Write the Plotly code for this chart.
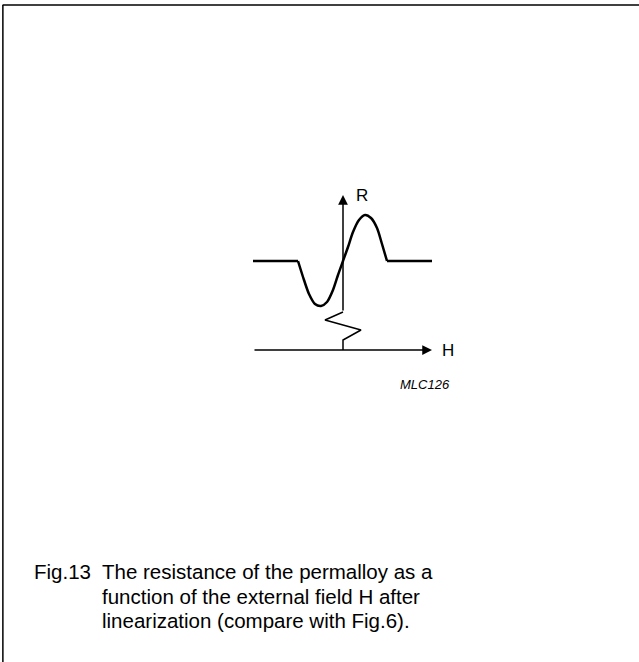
import plotly.graph_objects as go

# Curve R(H) after linearization, units relative to the axis origin (y up)
flat_left_h = [-90, -45]
flat_right_h = [44, 89]
flat_r = [89, 89]
wave_h = [-45, -39, -34, -28, -22, -16, -10, -5, 0, 5, 10, 16, 22, 28, 34, 39, 44]
wave_r = [89, 70, 56, 46, 44, 48, 60, 75, 89, 103, 118, 130, 135, 132, 122, 106, 89]

# Broken R axis (zigzag near the origin)
zig_h = [0, 0, 18, -18, 0]
zig_r = [0, 10, 20, 30, 38]

# Axis extents
h_axis = [-90, 89]
r_axis = [38, 155]

caption_lines = [
    "The resistance of the permalloy as a",
    "function of the external field H after",
    "linearization (compare with Fig.6).",
]
caption_y = [-221, -246, -270]

font = "Liberation Sans, Arial, sans-serif"

fig = go.Figure()

for hx in (flat_left_h, flat_right_h):
    fig.add_trace(go.Scatter(
        x=hx, y=flat_r, mode="lines",
        line=dict(color="black", width=2.5),
        hoverinfo="skip", showlegend=False,
    ))

fig.add_trace(go.Scatter(
    x=wave_h, y=wave_r, mode="lines",
    line=dict(color="black", width=2.5, shape="spline", smoothing=0.8),
    hoverinfo="skip", showlegend=False,
))

fig.add_trace(go.Scatter(
    x=zig_h, y=zig_r, mode="lines",
    line=dict(color="black", width=1.5),
    hoverinfo="skip", showlegend=False,
))

# axes with arrowheads
fig.add_annotation(x=h_axis[1], y=0, ax=h_axis[0], ay=0, xref="x", yref="y",
                   axref="x", ayref="y", showarrow=True, arrowhead=2,
                   arrowsize=1.3, arrowwidth=1.5, arrowcolor="black", text="")
fig.add_annotation(x=0, y=r_axis[1], ax=0, ay=r_axis[0], xref="x", yref="y",
                   axref="x", ayref="y", showarrow=True, arrowhead=2,
                   arrowsize=1.3, arrowwidth=1.5, arrowcolor="black", text="")

fig.add_annotation(x=19, y=155, text="R", showarrow=False,
                   font=dict(family=font, size=17, color="black"))
fig.add_annotation(x=105, y=0, text="H", showarrow=False,
                   font=dict(family=font, size=17, color="black"))
fig.add_annotation(x=82, y=-34, text="<i>MLC126</i>", showarrow=False,
                   font=dict(family=font, size=13, color="black"))

# caption
fig.add_annotation(x=-311, y=caption_y[0], text="Fig.13", showarrow=False,
                   xanchor="left", font=dict(family=font, size=20.5, color="black"))
for line, yy in zip(caption_lines, caption_y):
    fig.add_annotation(x=-243, y=yy, text=line, showarrow=False,
                       xanchor="left", font=dict(family=font, size=20.5, color="black"))

# frame (top and left edges visible)
fig.add_shape(type="line", xref="paper", yref="paper", x0=0.004, x1=1.0,
              y0=0.9925, y1=0.9925, line=dict(color="black", width=1.5))
fig.add_shape(type="line", xref="paper", yref="paper", x0=0.0045, x1=0.0045,
              y0=0, y1=0.9925, line=dict(color="black", width=1.5))

fig.update_xaxes(range=[-343, 296], visible=False, fixedrange=True)
fig.update_yaxes(range=[-312, 350], visible=False, fixedrange=True)
fig.update_layout(
    width=639, height=662, autosize=False,
    margin=dict(l=0, r=0, t=0, b=0),
    plot_bgcolor="white", paper_bgcolor="white",
)

fig.write_html("out.html", config={"displayModeBar": False},
               post_script="document.body.style.margin='0';")
